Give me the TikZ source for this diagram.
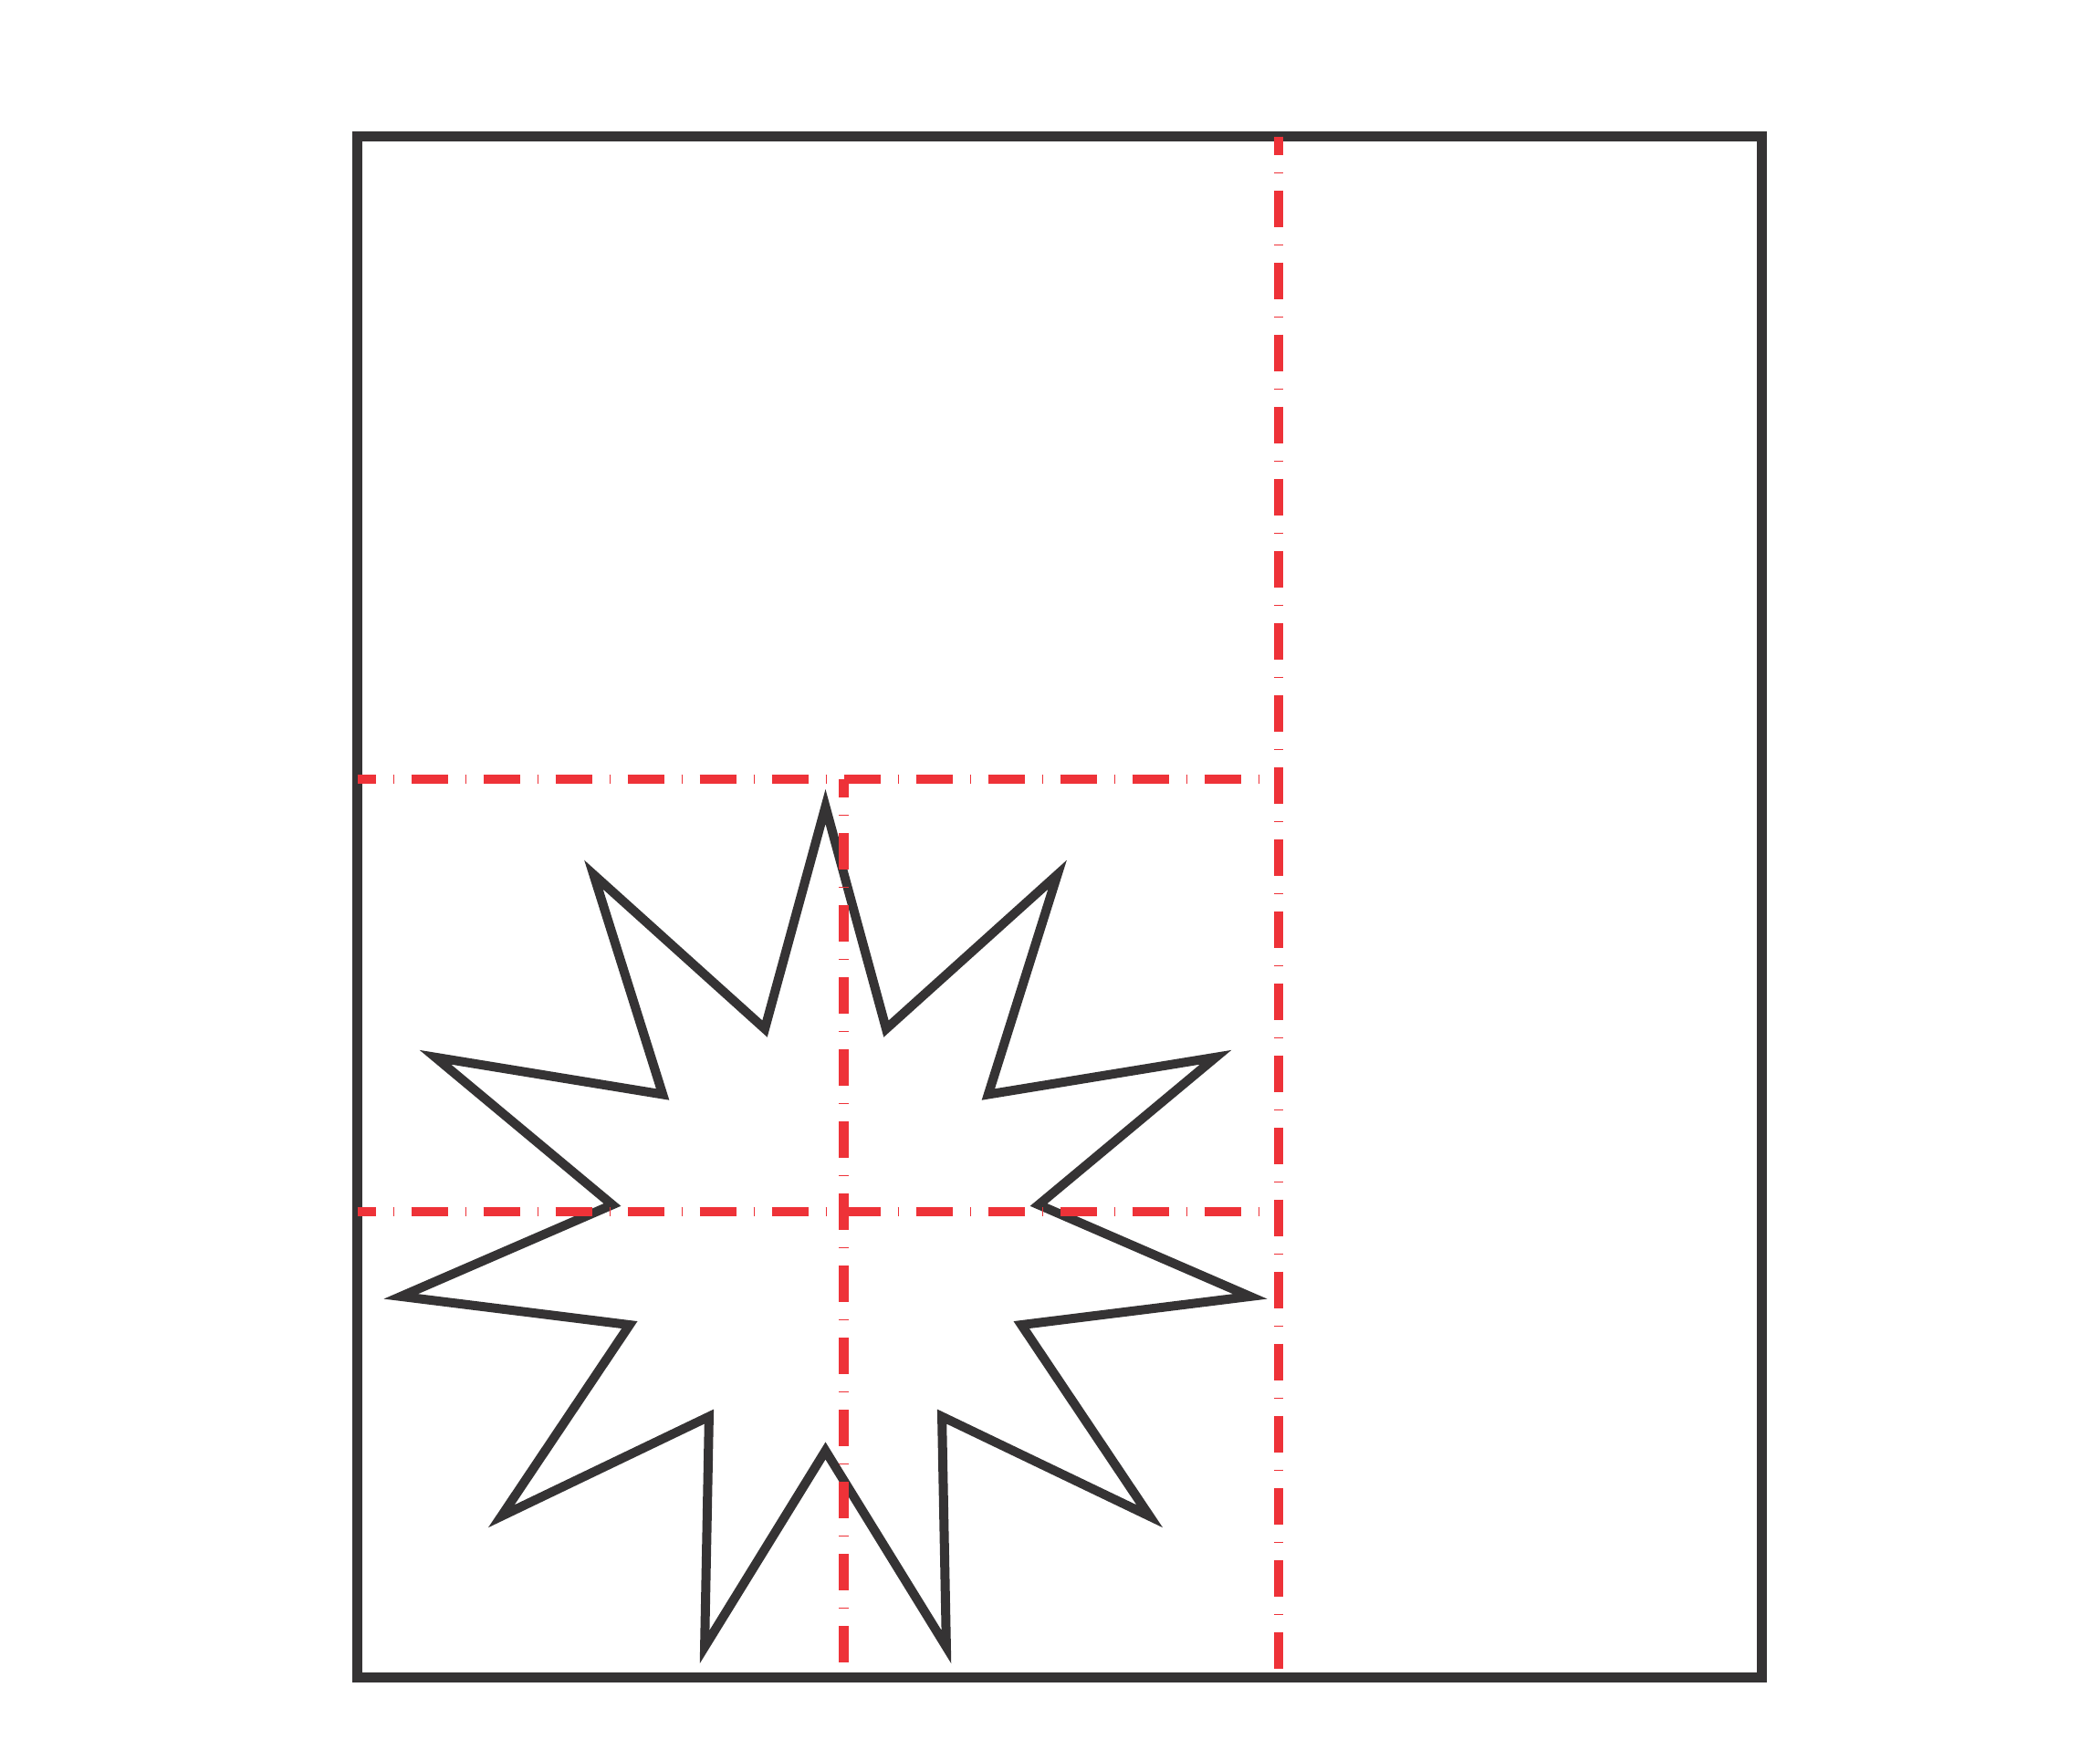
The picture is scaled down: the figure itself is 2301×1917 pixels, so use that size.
\documentclass[tikz,border=0pt]{standalone}
\definecolor{darkline}{RGB}{53,51,52}
\definecolor{redline}{RGB}{238,50,56}
\tikzset{
  frameline/.style={draw=darkline, line width=11pt, line join=miter},
  starline/.style={draw=darkline, line width=10pt, line join=miter, miter limit=10},
  axisline/.style={draw=redline, line width=10.5pt,
    dash pattern=on 40pt off 19pt on 1.3pt off 18.7pt, dash phase=20pt}
}
\begin{document}
\begin{tikzpicture}[x=1pt,y=-1pt]
  \useasboundingbox (0,0) rectangle (2301,1917);
  % frame
  \coordinate (tl) at (391.5,149.5);
  \coordinate (br) at (1930.5,1838);
  \draw[frameline] (tl) rectangle (br);
  % star (11 points)
  \coordinate (sc) at (904.5,1354);
  \begin{scope}[shift={(sc)}]
    \draw[starline] (90:470pt)
      \foreach \i in {0,...,9}{
        -- ({90+(\i+0.5)*360/11}:236pt) -- ({90+(\i+1)*360/11}:470pt)
      }
      -- ({90+10.5*360/11}:236pt) -- cycle;
  \end{scope}
  % red centre lines
  \coordinate (h1a) at (391.5,854);
  \coordinate (h1b) at (1401,854);
  \coordinate (h2a) at (391.5,1328);
  \coordinate (h2b) at (1401,1328);
  \coordinate (v1a) at (924.5,854);
  \coordinate (v1b) at (924.5,1838);
  \coordinate (v2a) at (1401,149.5);
  \coordinate (v2b) at (1401,1838);
  \draw[axisline] (h1a) -- (h1b);
  \draw[axisline] (h2a) -- (h2b);
  \draw[axisline] (v1a) -- (v1b);
  \draw[axisline] (v2a) -- (v2b);
\end{tikzpicture}
\end{document}
